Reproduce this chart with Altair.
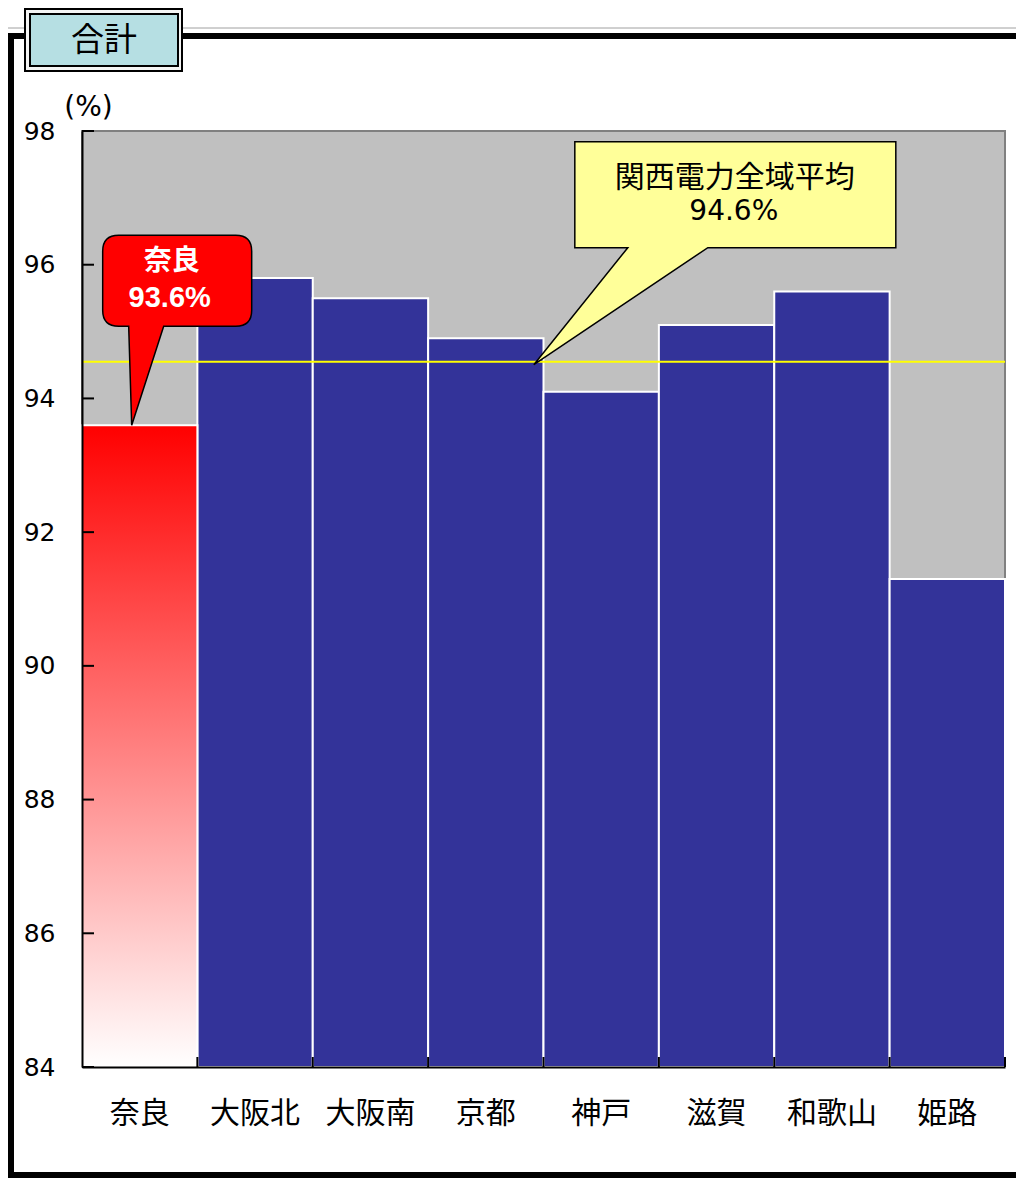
import altair as alt
import pandas as pd

# ---- data ----
regions = ["奈良", "大阪北", "大阪南", "京都", "神戸", "滋賀", "和歌山", "姫路"]
values = [93.6, 95.8, 95.5, 94.9, 94.1, 95.1, 95.6, 91.3]
highlight = "奈良"
average = 94.55
average_label = "94.6%"
average_title = "関西電力全域平均"
chart_title = "合計"
y_ticks = [84, 86, 88, 90, 92, 94, 96, 98]
y_min, y_max = 84, 98
pointer_region = "京都"

# ---- layout ----
W, H = 923, 936
PAD = {"left": 74, "top": 123, "right": 11, "bottom": 112}

JP = "Noto Sans CJK JP"
NUM = "DejaVu Sans"

df = pd.DataFrame({"region": regions, "value": values})
df["base"] = y_min
ticks_df = pd.DataFrame({"value": y_ticks})
one = pd.DataFrame({"k": [0]})
hi_df = pd.DataFrame({"region": [highlight], "value": [values[regions.index(highlight)]]})
avg_df = pd.DataFrame({"region": [pointer_region], "value": [average]})

x_scale = alt.Scale(domain=regions, paddingInner=0, paddingOuter=0)
x_axis = alt.Axis(title=None, labelAngle=0, labelFont=JP, labelFontSize=30,
                  labelColor="black", labelPadding=31, ticks=False,
                  domainColor="black", domainWidth=2, zindex=1)
y_scale = alt.Scale(domain=[y_min, y_max], nice=False, zero=False)
y_axis = alt.Axis(values=y_ticks, title="(%)", titleAngle=0, titleAlign="center",
                  titleBaseline="middle", titleX=6, titleY=-24, titleFont=NUM,
                  titleFontSize=28, titleFontWeight="normal", titleColor="black",
                  labelFont=NUM, labelFontSize=25, labelColor="black", labelPadding=27,
                  ticks=False, grid=False, domainColor="black", domainWidth=2, zindex=1)


def xe(**kw):
    return alt.X("region:N", sort=regions, scale=x_scale, axis=x_axis, **kw)


def ye():
    return alt.Y("value:Q", scale=y_scale, axis=y_axis)


# ---- decorations: frame and title box ----
frame_gray = alt.Chart(one).mark_rule(color="#A0A0A0", strokeWidth=1).encode(
    x=alt.value(-74), x2=alt.value(942), y=alt.value(-103))
frame = alt.Chart(one).mark_rect(fillOpacity=0, stroke="black", strokeWidth=6).encode(
    x=alt.value(-71), x2=alt.value(943), y=alt.value(-95), y2=alt.value(1044))
title_outer = alt.Chart(one).mark_rect(fill="#F4F4F4", stroke="black", strokeWidth=2).encode(
    x=alt.value(-57), x2=alt.value(100), y=alt.value(-122), y2=alt.value(-60))
title_inner = alt.Chart(one).mark_rect(fill="#B6DFE3", stroke="black", strokeWidth=2).encode(
    x=alt.value(-52), x2=alt.value(96), y=alt.value(-117), y2=alt.value(-65))
title_text = alt.Chart(one).mark_text(text=chart_title, font=JP, fontSize=33, color="black",
                                       align="center", baseline="middle").encode(
    x=alt.value(22), y=alt.value(-90))

# ---- bars ----
bars = alt.Chart(df).transform_filter(alt.datum.region != highlight).mark_bar(
    color="#333399", stroke="white", strokeWidth=2).encode(
    x=xe(), y=ye(), y2="base:Q")

grad = alt.LinearGradient(
    gradient="linear",
    stops=[alt.GradientStop(color="#FF0000", offset=0),
           alt.GradientStop(color="#FFFFFF", offset=1)],
    x1=0, x2=0, y1=0, y2=1)
hi_bar = alt.Chart(df).transform_filter(alt.datum.region == highlight).mark_bar(
    color=grad, stroke="white", strokeWidth=2).encode(
    x=xe(), y=ye(), y2="base:Q")

avg_rule = alt.Chart(avg_df).mark_rule(color="#FFFF00", strokeWidth=2).encode(
    y=ye())

y_tick_marks = alt.Chart(ticks_df).mark_rule(color="black", strokeWidth=2).encode(
    y=ye(), x=alt.value(0), x2=alt.value(12))

x_tick_marks = alt.Chart(df).mark_rule(color="black", strokeWidth=2).encode(
    x=xe(bandPosition=1), y=alt.value(H), y2=alt.value(H - 10))

# ---- callouts ----
red_path = ("M -8 0 L -11 -99 L -21 -99 Q -37 -99 -37 -115 L -37 -174 Q -37 -190 -21 -190 "
            "L 96 -190 Q 112 -190 112 -174 L 112 -115 Q 112 -99 96 -99 L 24 -99 Z")
red_callout = alt.Chart(hi_df).mark_point(
    shape=red_path, size=4, filled=True, fill="#FF0000", stroke="black",
    strokeWidth=1.5, opacity=1).encode(x=xe(), y=ye())
red_t1 = alt.Chart(hi_df).mark_text(font=JP, fontSize=28, fontWeight="bold", color="white",
                                    dx=32, dy=-163, align="center", baseline="middle").encode(
    x=xe(), y=ye(), text="region:N")
red_t2 = alt.Chart(hi_df).transform_calculate(
    lbl="format(datum.value, '.1f') + '%'").mark_text(
    font="Liberation Sans", fontSize=29, fontWeight="bold", color="white",
    dx=30, dy=-127, align="center", baseline="middle").encode(
    x=xe(), y=ye(), text="lbl:N")

yellow_path = "M 48 3 L 142 -114 L 89 -114 L 89 -220 L 410 -220 L 410 -114 L 222 -114 Z"
yellow_callout = alt.Chart(avg_df).mark_point(
    shape=yellow_path, size=4, filled=True, fill="#FFFF99", stroke="black",
    strokeWidth=1.5, opacity=1).encode(x=xe(), y=ye())
yellow_t1 = alt.Chart(avg_df).mark_text(text=average_title, font=JP, fontSize=30, color="black",
                                        dx=249, dy=-184, align="center", baseline="middle").encode(
    x=xe(), y=ye())
yellow_t2 = alt.Chart(avg_df).mark_text(text=average_label, font=NUM, fontSize=28, color="black",
                                        dx=248, dy=-150, align="center", baseline="middle").encode(
    x=xe(), y=ye())

chart = alt.layer(
    bars, hi_bar, avg_rule, y_tick_marks, x_tick_marks,
    red_callout, red_t1, red_t2, yellow_callout, yellow_t1, yellow_t2,
    frame_gray, frame, title_outer, title_inner, title_text,
).properties(
    width=W, height=H,
    autosize=alt.AutoSizeParams(type="none"),
    padding=PAD,
    background="white",
).configure_view(
    fill="#C0C0C0", stroke="#808080", strokeWidth=2,
)

chart.save("out.html", embed_options={"renderer": "svg", "actions": False})
